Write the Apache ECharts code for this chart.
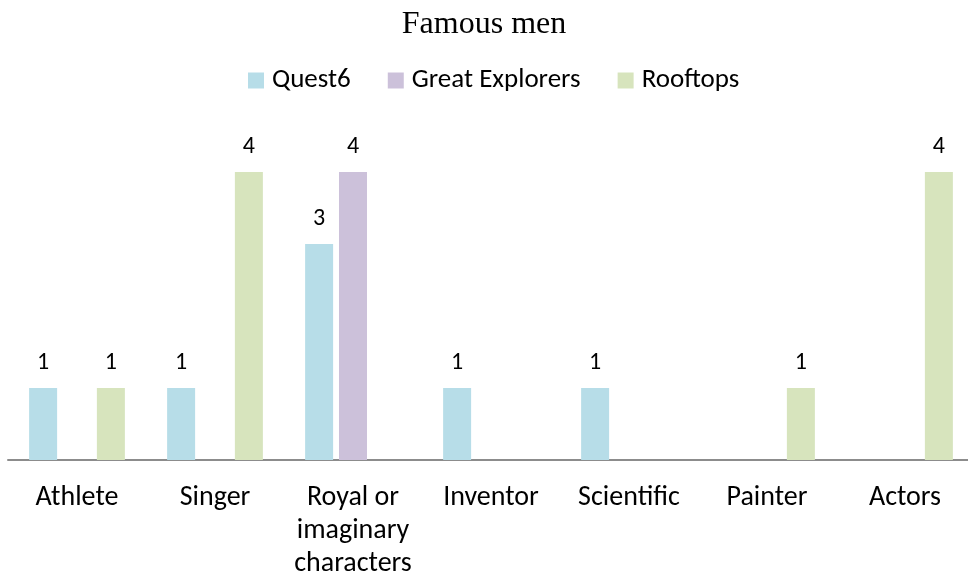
<!DOCTYPE html>
<html>
<head>
<meta charset="utf-8">
<title>Famous men</title>
<script src="https://cdn.jsdelivr.net/npm/echarts@6/dist/echarts.min.js"></script>
<style>
  html, body { margin: 0; padding: 0; background: #fff; }
  #chart { width: 968px; height: 577px; }
</style>
</head>
<body>
<div id="chart"></div>
<script>
// data
var categories = ['Athlete', 'Singer', 'Royal or\nimaginary\ncharacters', 'Inventor', 'Scientific', 'Painter', 'Actors'];
var quest6 = [1, 1, 3, 1, 1, 0, 0];
var greatExplorers = [0, 0, 4, 0, 0, 0, 0];
var rooftops = [1, 4, 0, 0, 0, 1, 4];

var sans = "Carlito, 'Liberation Sans', Arial, sans-serif";

function barSeries(name, data, color) {
  return {
    name: name,
    type: 'bar',
    data: data,
    barWidth: 28,
    barGap: '21%',
    itemStyle: { color: color },
    label: {
      show: true,
      position: 'top',
      distance: 13,
      color: '#000',
      fontFamily: sans,
      fontSize: 24,
      formatter: function (p) { return p.value ? String(p.value) : ''; }
    }
  };
}

var chart = echarts.init(document.getElementById('chart'));
chart.setOption({
  animation: false,
  backgroundColor: '#fff',
  title: {
    text: 'Famous men',
    left: 'center',
    top: 9,
    padding: 0,
    textStyle: {
      fontFamily: "'Liberation Serif', 'Times New Roman', serif",
      fontWeight: 'normal',
      fontSize: 32,
      color: '#000'
    }
  },
  legend: {
    left: 248,
    top: 67,
    padding: 0,
    itemWidth: 16,
    itemHeight: 16,
    itemGap: 37,
    icon: 'rect',
    textStyle: {
      fontFamily: sans,
      fontSize: 27,
      color: '#000',
      padding: [0, 0, 0, 3]
    },
    data: ['Quest6', 'Great Explorers', 'Rooftops']
  },
  grid: {
    left: 8,
    right: -6,
    top: 172,
    bottom: 117,
    containLabel: false,
    outerBoundsMode: 'none'
  },
  xAxis: {
    type: 'category',
    data: categories,
    axisTick: { show: false },
    axisLine: { show: true, lineStyle: { color: '#8c8c8c', width: 2 } },
    axisLabel: {
      interval: 0,
      margin: 21,
      color: '#000',
      fontFamily: sans,
      fontSize: 28,
      lineHeight: 33
    }
  },
  yAxis: {
    type: 'value',
    min: 0,
    max: 4,
    show: false,
    splitLine: { show: false }
  },
  series: [
    barSeries('Quest6', quest6, '#b7dde8'),
    barSeries('Great Explorers', greatExplorers, '#ccc1da'),
    barSeries('Rooftops', rooftops, '#d7e4bd')
  ]
});
</script>
</body>
</html>
